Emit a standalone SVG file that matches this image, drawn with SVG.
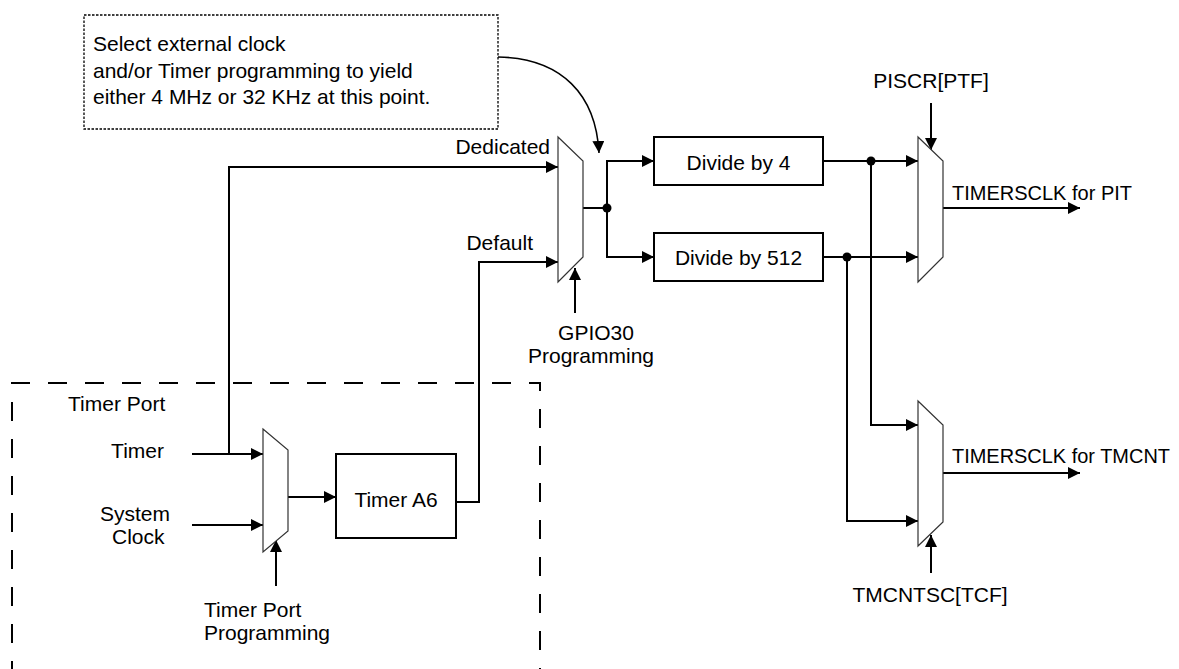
<svg xmlns="http://www.w3.org/2000/svg" width="1179" height="669" viewBox="0 0 1179 669">
  <style>
    text { font-family: "Liberation Sans", Arial, Helvetica, sans-serif; font-size: 21px; fill: #000; }
    .mid { text-anchor: middle; }
    .end { text-anchor: end; }
    .wire { fill: none; stroke: #000; stroke-width: 2; }
    .arrow { marker-end: url(#head); }
    .box { fill: #fff; stroke: #000; stroke-width: 2; }
    .mux { fill: #fff; stroke: #333; stroke-width: 1.2; }
    .dot { fill: #000; }
    .note { fill: #fff; stroke: #000; stroke-width: 1.3; stroke-dasharray: 2.5 1.5; }
    .region { fill: none; stroke: #000; stroke-width: 2; stroke-dasharray: 19 18; }
  </style>
  <defs>
    <marker id="head" markerUnits="userSpaceOnUse" markerWidth="13" markerHeight="13" refX="12" refY="6" orient="auto">
      <path d="M0,0 L12,6 L0,12 Z" fill="#000"/>
    </marker>
  </defs>

  <rect width="1179" height="669" fill="#fff"/>

  <!-- Timer Port region outline -->
  <g id="timer-port-region">
    <path class="region" d="M12,680 V383 H540 V680"/>
    <text x="68" y="411">Timer Port</text>
  </g>

  <!-- Connectors -->
  <g id="connectors">
    <!-- Timer and System Clock into the port mux -->
    <path class="wire arrow" d="M192,454 H263"/>
    <path class="wire arrow" d="M192,525 H263"/>
    <!-- Timer tap to Dedicated input -->
    <path class="wire arrow" d="M229,454 V167 H558"/>
    <!-- port mux to Timer A6 -->
    <path class="wire arrow" d="M288,497 H336"/>
    <!-- Timer A6 to Default input -->
    <path class="wire arrow" d="M456,502 H479 V262 H558"/>
    <!-- port mux select -->
    <path class="wire arrow" d="M276,586 V540"/>
    <!-- GPIO30 select -->
    <path class="wire arrow" d="M575,313 V268"/>
    <!-- GPIO mux output split to dividers -->
    <path class="wire" d="M583,208 H607"/>
    <path class="wire arrow" d="M607,161 V257 H654"/>
    <path class="wire arrow" d="M607,208 V161 H654"/>
    <circle class="dot" cx="607" cy="208" r="4.5"/>
    <!-- dividers to PIT mux -->
    <path class="wire arrow" d="M823,161 H918"/>
    <path class="wire arrow" d="M823,257 H918"/>
    <circle class="dot" cx="871" cy="161" r="4.5"/>
    <circle class="dot" cx="847" cy="257" r="4.5"/>
    <!-- dividers to TMCNT mux -->
    <path class="wire arrow" d="M871,161 V425 H918"/>
    <path class="wire arrow" d="M847,257 V521 H918"/>
    <!-- selects -->
    <path class="wire arrow" d="M931,103 V150"/>
    <path class="wire arrow" d="M931,573 V535"/>
    <!-- outputs -->
    <path class="wire arrow" d="M943,208 H1080"/>
    <path class="wire arrow" d="M943,473 H1080"/>
    <!-- note pointer -->
    <path fill="none" stroke="#000" stroke-width="1.5" marker-end="url(#head)" d="M498,57 C562,58 596,95 599,153"/>
  </g>

  <!-- Note -->
  <g id="note">
    <rect class="note" x="84" y="15" width="414" height="114"/>
    <text x="93" y="51">Select external clock</text>
    <text x="93" y="78">and/or Timer programming to yield</text>
    <text x="93" y="104">either 4 MHz or 32 KHz at this point.</text>
  </g>

  <!-- Inputs -->
  <g id="timer-input">
    <text class="end" x="164" y="458">Timer</text>
  </g>
  <g id="system-clock-input">
    <text x="100" y="521">System</text>
    <text x="112" y="544">Clock</text>
  </g>

  <!-- Timer Port mux -->
  <g id="port-mux">
    <polygon class="mux" points="263,429 288,450 288,531 263,552"/>
    <text x="204" y="617">Timer Port</text>
    <text x="204" y="640">Programming</text>
  </g>

  <g id="timer-a6">
    <rect class="box" x="336" y="454" width="120" height="84"/>
    <text class="mid" x="396" y="507">Timer A6</text>
  </g>

  <!-- GPIO30 mux -->
  <g id="gpio-mux">
    <polygon class="mux" points="558,137 583,161 583,257 558,282"/>
    <text class="end" x="550" y="154">Dedicated</text>
    <text class="end" x="533" y="250">Default</text>
    <text class="mid" x="596" y="340">GPIO30</text>
    <text class="mid" x="591" y="363">Programming</text>
  </g>

  <g id="divide-4">
    <rect class="box" x="654" y="137" width="169" height="48"/>
    <text class="mid" x="738.5" y="170">Divide by 4</text>
  </g>

  <g id="divide-512">
    <rect class="box" x="654" y="233" width="169" height="48"/>
    <text class="mid" x="738.5" y="265">Divide by 512</text>
  </g>

  <!-- PIT clock mux -->
  <g id="pit-mux">
    <polygon class="mux" points="918,137 943,161 943,257 918,282"/>
    <text class="mid" x="931" y="88">PISCR[PTF]</text>
    <text x="952" y="200" textLength="180" lengthAdjust="spacingAndGlyphs">TIMERSCLK for PIT</text>
  </g>

  <!-- TMCNT clock mux -->
  <g id="tmcnt-mux">
    <polygon class="mux" points="918,401 943,425 943,522 918,546"/>
    <text x="952" y="463" textLength="218" lengthAdjust="spacingAndGlyphs">TIMERSCLK for TMCNT</text>
    <text class="mid" x="930" y="602">TMCNTSC[TCF]</text>
  </g>
</svg>
